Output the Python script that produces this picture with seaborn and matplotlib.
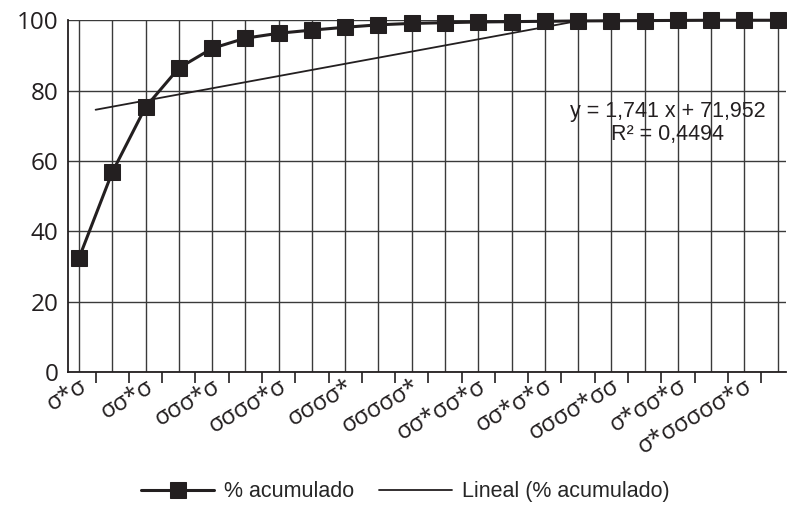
import numpy as np
import pandas as pd
import matplotlib.pyplot as plt
import seaborn as sns

# Cumulative percentage per category (22 categories)
pct_acumulado = [32.4, 56.8, 75.3, 86.4, 92.0, 94.9, 96.3, 97.2, 98.0, 98.7, 99.1,
                 99.3, 99.5, 99.6, 99.7, 99.8, 99.85, 99.9, 99.95, 100.0, 100.0, 100.0]
# Only every second category label is shown on the axis
tick_labels = ["σ*σ", "σσ*σ", "σσσ*σ", "σσσσ*σ", "σσσσ*", "σσσσσ*",
               "σσ*σσ*σ", "σσ*σ*σ", "σσσσ*σσ", "σ*σσ*σ", "σ*σσσσσ*σ"]
# Linear trendline as reported on the chart
slope, intercept, r2 = 1.741, 71.952, 0.4494
trend_start, trend_end = 0.5, 15

df = pd.DataFrame({"pos": np.arange(len(pct_acumulado)), "pct": pct_acumulado})
trend = pd.DataFrame({"pos": [trend_start, trend_end]})
trend["pct"] = slope * (trend["pos"] + 1) + intercept

sns.set_style("white")
plt.rcParams["font.family"] = ["Open Sans", "DejaVu Sans"]

fig = plt.figure(figsize=(7.87, 5.19), dpi=100)
ax = fig.add_axes([0.0864, 0.283, 0.912, 0.678])

ink = "#231f20"
sns.lineplot(data=df, x="pos", y="pct", ax=ax, color=ink, lw=2.2, marker="s",
             markersize=11, markeredgecolor=ink, clip_on=False, zorder=4,
             label="% acumulado", legend=False)
sns.lineplot(data=trend, x="pos", y="pct", ax=ax, color=ink, lw=1.3, zorder=3,
             label="Lineal (% acumulado)", legend=False)

ax.set_xlim(-0.33, 21.24)
ax.set_ylim(0, 100)
ax.set_yticks([0, 20, 40, 60, 80, 100])
ax.tick_params(axis="y", length=0, labelsize=17.5, pad=7, colors=ink)

n = len(pct_acumulado)
# tick marks between categories
ax.set_xticks(np.arange(0.5, n - 0.5, 1), [""] * (n - 1))
ax.tick_params(axis="x", which="major", length=8, width=1.2, direction="out",
               color=ink, bottom=True)
# category positions: gridlines + labels on every second one
minor_labels = [tick_labels[i // 2] if i % 2 == 0 else "" for i in range(n)]
ax.set_xticks(np.arange(n), minor_labels, minor=True)
ax.tick_params(axis="x", which="minor", length=0, pad=2, colors=ink,
               labelsize=17, labelrotation=30)

ax.grid(False)
ax.grid(True, axis="y", which="major", color="#3a3a3a", lw=1.0)
ax.grid(True, axis="x", which="minor", color="#3a3a3a", lw=1.0)
ax.set_axisbelow(True)
for side in ["top", "right"]:
    ax.spines[side].set_visible(False)
for side in ["left", "bottom"]:
    ax.spines[side].set_color(ink)
    ax.spines[side].set_linewidth(1.3)
ax.set_xlabel("")
ax.set_ylabel("")

eq_font = ["Liberation Sans", "DejaVu Sans"]
ax.text(17.7, 74.1, f"y = {slope:.3f} x + {intercept:.3f}".replace(".", ","),
        ha="center", va="center", fontsize=15.5, family=eq_font, color=ink)
ax.text(17.7, 67.4, f"R² = {r2:.4f}".replace(".", ","),
        ha="center", va="center", fontsize=15.5, family=eq_font, color=ink)

handles, labels = ax.get_legend_handles_labels()
fig.legend(handles, labels, loc="lower center", bbox_to_anchor=(0.515, -0.005), ncol=2,
           frameon=False, handlelength=3.4, columnspacing=1.15, handletextpad=0.45,
           prop={"family": eq_font, "size": 15.5})

# align rotated labels last, once all tick objects exist
fig.canvas.draw()
for tick in ax.xaxis.get_minor_ticks():
    tick.label1.set_horizontalalignment("right")
    tick.label1.set_rotation_mode("anchor")

fig.savefig("out.png", dpi=100)
